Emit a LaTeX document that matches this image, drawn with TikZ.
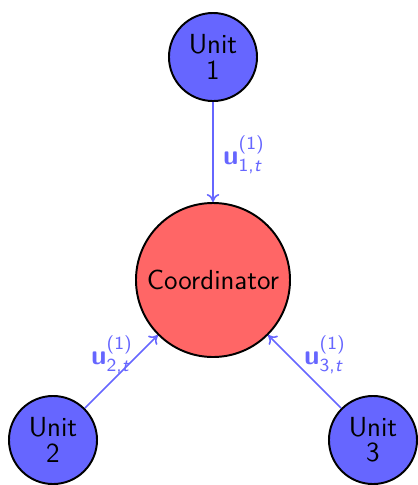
\documentclass[tikz,border=0pt]{standalone}
\usepackage{amsmath}
\usetikzlibrary{arrows.meta}
\newcommand{\ulab}[1]{$\textsf{\bfseries u}^{\textsf{(1)}}_{\textsf{#1,}\textsf{\itshape t}}$}
\begin{document}
\begin{tikzpicture}[x=0.435pt,y=-0.435pt,font=\sffamily,
  unitnode/.style={circle,draw=black,fill=blue!60,line width=0.85pt,minimum size=38.3pt,inner sep=0pt,align=center,font=\sffamily\large},
  coordnode/.style={circle,draw=black,fill=red!60,line width=0.85pt,minimum size=67pt,inner sep=0pt,font=\sffamily\large},
  flow/.style={draw=blue!60,line width=0.7pt,-{To[length=3.5pt,width=5.5pt]}},
  flowlabel/.style={text=blue!60,font=\large}]
\useasboundingbox (0,0) rectangle (418,485);
\node[coordnode] (c) at (213,280) {Coordinator};
\node[unitnode] (u1) at (213,57) {Unit\\[-3pt]1};
\node[unitnode] (u2) at (53,440) {Unit\\[-3pt]2};
\node[unitnode] (u3) at (373,440) {Unit\\[-3pt]3};
\draw[flow] (u1) -- (c);
\draw[flow] (u2) -- (c);
\draw[flow] (u3) -- (c);
\node[flowlabel] (l1) at (244,155) {\ulab{1}};
\node[flowlabel] (l2) at (112,355) {\ulab{2}};
\node[flowlabel] (l3) at (325,355) {\ulab{3}};
\end{tikzpicture}
\end{document}
